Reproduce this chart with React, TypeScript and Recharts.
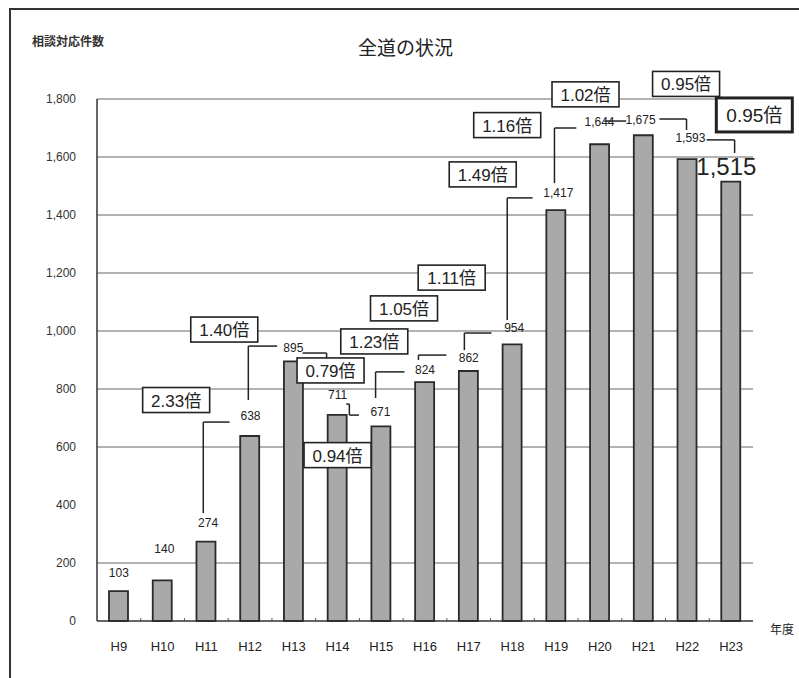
import React from "react"
import { ComposedChart, Bar, XAxis, YAxis, CartesianGrid, ReferenceLine, ReferenceDot } from "recharts"

const years = ['H9', 'H10', 'H11', 'H12', 'H13', 'H14', 'H15', 'H16', 'H17', 'H18', 'H19', 'H20', 'H21', 'H22', 'H23']
const counts = [103, 140, 274, 638, 895, 711, 671, 824, 862, 954, 1417, 1644, 1675, 1593, 1515]
const ratios = ['2.33倍', '1.40倍', '0.79倍', '0.94倍', '1.23倍', '1.05倍', '1.11倍', '1.49倍', '1.16倍', '1.02倍', '0.95倍', '0.95倍']
const yTicks = [0, 200, 400, 600, 800, 1000, 1200, 1400, 1600, 1800]
const gridValues = [200, 600, 800, 1000, 1200, 1400, 1600, 1800]

// annotation layout, in axis units (x = category index, y = count)
const labelAt = [
  [0, 166], [1.04, 248], [2.04, 338], [3.01, 707], [3.99, 941], [5.0, 779], [5.98, 721], [7.0, 866],
  [8.0, 907], [9.04, 1010], [10.05, 1476], [10.99, 1721], [11.93, 1728], [13.07, 1666], [13.89, 1566],
]
const boxAt = [
  [1.31, 762], [2.41, 1005], [4.84, 864], [5.0, 572], [5.84, 964], [6.52, 1078],
  [7.61, 1184], [8.32, 1540], [8.88, 1710], [10.67, 1816], [12.97, 1852], [14.53, 1745],
]
const connectors = [
  [[1.93, 372], [1.93, 686], [2.53, 686]],
  [[2.96, 762], [2.96, 948], [3.62, 948]],
  [[4.2, 924], [4.75, 924], [4.75, 907]],
  [[5.2, 748], [5.27, 748], [5.27, 710], [5.49, 710]],
  [[5.87, 769], [5.87, 859], [6.53, 859]],
  [[6.85, 900], [6.85, 917], [7.49, 917]],
  [[7.9, 934], [7.9, 993], [8.52, 993]],
  [[8.88, 1038], [8.88, 1459], [9.46, 1459]],
  [[9.96, 1510], [9.96, 1700], [10.46, 1700]],
  [[11.1, 1724], [11.6, 1724]],
  [[12.36, 1731], [12.98, 1731], [12.98, 1693]],
  [[13.44, 1659], [14.08, 1659], [14.08, 1614]],
]

const data = years.map((year, i) => ({ year, idx: i, count: counts[i] }))
const FONT = "'Liberation Sans', Arial, 'Noto Sans CJK JP', sans-serif"

// half of one category band (656px / 15), so index i sits on the bar centre
const HALF_BAND = 656 / 30

const fmt = (v: number) => v.toLocaleString('en-US')

export default function App() {
  const segments: { x1: number, y1: number, x2: number, y2: number }[] = []
  connectors.forEach(pts => {
    for (let k = 0; k < pts.length - 1; k++) {
      segments.push({ x1: pts[k][0], y1: pts[k][1], x2: pts[k + 1][0], y2: pts[k + 1][1] })
    }
  })

  return (
    <div style={{ position: 'absolute', left: 0, top: 0, width: 799, height: 678, background: '#fff', overflow: 'hidden', fontFamily: FONT }}>
      <div style={{ position: 'absolute', left: 9, top: 8, width: 820, height: 700, borderTop: '2px solid #333', borderLeft: '2px solid #333' }} />

      <ComposedChart
        width={799}
        height={678}
        data={data}
        margin={{ top: 99, right: 46, bottom: 27, left: 37 }}
        style={{ position: 'absolute', left: 0, top: 0 }}
      >
        <CartesianGrid vertical={false} horizontalValues={gridValues} stroke="#666" strokeWidth={1} />
        <XAxis
          xAxisId="c"
          dataKey="year"
          tickLine={false}
          tickSize={0}
          tickMargin={21}
          axisLine={{ stroke: '#333', strokeWidth: 1.5 }}
          tick={{ fontSize: 13, fill: '#222', fontFamily: FONT }}
          interval={0}
        />
        <XAxis
          xAxisId="n"
          dataKey="idx"
          type="number"
          domain={[0, 14]}
          padding={{ left: HALF_BAND, right: HALF_BAND }}
          allowDataOverflow
          hide
        />
        <YAxis
          width={60}
          domain={[0, 1800]}
          ticks={yTicks}
          tickFormatter={fmt}
          tickLine={false}
          tickSize={0}
          tickMargin={21}
          axisLine={{ stroke: '#333', strokeWidth: 1.5 }}
          tick={{ fontSize: 12, fill: '#333', fontFamily: FONT }}
          interval={0}
        />
        <Bar xAxisId="c" dataKey="count" barSize={19} fill="#a9a9a9" stroke="#2a2a2a" strokeWidth={1.8} isAnimationActive={false} />

        {years.slice(1).map((_, i) => (
          <ReferenceLine key={'t' + i} xAxisId="n" segment={[{ x: i + 0.5, y: 0 }, { x: i + 0.5, y: 10 }]} stroke="#555" ifOverflow="visible" />
        ))}

        {segments.map((s, i) => (
          <ReferenceLine
            key={'s' + i}
            xAxisId="n"
            segment={[{ x: s.x1, y: s.y1 }, { x: s.x2, y: s.y2 }]}
            stroke="#222"
            strokeWidth={1.5}
            ifOverflow="visible"
          />
        ))}

        {counts.map((v, i) => {
          const big = i === counts.length - 1
          return (
            <ReferenceDot
              key={'l' + i}
              xAxisId="n"
              x={labelAt[i][0]}
              y={labelAt[i][1]}
              r={0}
              ifOverflow="visible"
              shape={(p: any) => (
                <text
                  x={p.cx}
                  y={p.cy}
                  textAnchor="middle"
                  dominantBaseline="central"
                  fontSize={big ? 24 : 12}
                  fill="#222"
                  fontFamily={FONT}
                >
                  {fmt(v)}
                </text>
              )}
            />
          )
        })}

        {ratios.map((r, i) => {
          const big = i === ratios.length - 1
          const w = big ? 76 : 67
          const h = big ? 34 : 25
          return (
            <ReferenceDot
              key={'b' + i}
              xAxisId="n"
              x={boxAt[i][0]}
              y={boxAt[i][1]}
              r={0}
              ifOverflow="visible"
              shape={(p: any) => (
                <g>
                  <rect x={p.cx - w / 2} y={p.cy - h / 2} width={w} height={h} fill="#fff" stroke="#222" strokeWidth={big ? 3 : 1.6} />
                  <text
                    x={p.cx}
                    y={p.cy + 1}
                    textAnchor="middle"
                    dominantBaseline="central"
                    fontSize={big ? 19 : 17}
                    fill="#222"
                    fontFamily={FONT}
                  >
                    {r}
                  </text>
                </g>
              )}
            />
          )
        })}
      </ComposedChart>

      <div style={{ position: 'absolute', left: 32, top: 32, fontSize: 12, color: '#333', fontWeight: 'bold', whiteSpace: 'nowrap' }}>相談対応件数</div>
      <div style={{ position: 'absolute', left: 358, top: 33, fontSize: 19, color: '#222', whiteSpace: 'nowrap' }}>全道の状況</div>
      <div style={{ position: 'absolute', left: 770, top: 620, fontSize: 12, color: '#222', whiteSpace: 'nowrap' }}>年度</div>
    </div>
  )
}
